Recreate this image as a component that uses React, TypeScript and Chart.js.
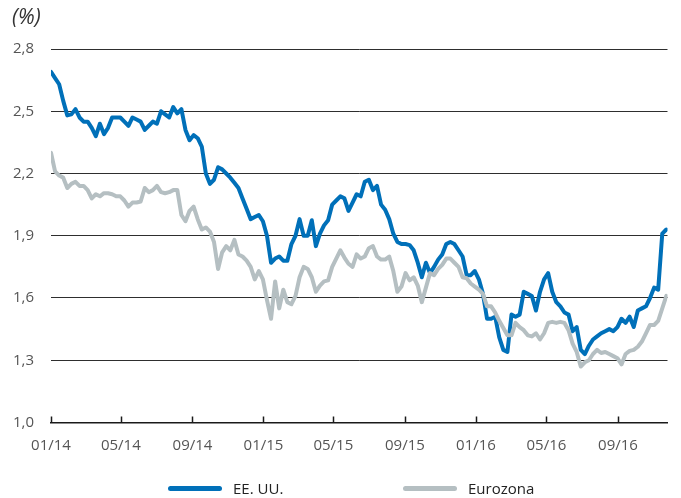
import React, { useEffect, useRef } from 'react';
import { Chart, registerables } from 'chart.js';

Chart.register(...registerables);

// Weekly observations starting 2014-01-01
const START_DATE = '2014-01-01';
const END_DATE = '2016-11-25';
const STEP_DAYS = 7;

const seriesLabels = ['EE. UU.', 'Eurozona'];

const usValues = [
  2.69, 2.66, 2.63, 2.55, 2.48, 2.485, 2.51, 2.47, 2.45, 2.45,
  2.42, 2.38, 2.44, 2.39, 2.42, 2.47, 2.47, 2.47, 2.45, 2.43,
  2.47, 2.46, 2.45, 2.41, 2.43, 2.45, 2.44, 2.50, 2.485, 2.47,
  2.52, 2.49, 2.51, 2.41, 2.36, 2.385, 2.37, 2.33, 2.20, 2.15,
  2.17, 2.23, 2.22, 2.20, 2.18, 2.155, 2.13, 2.08, 2.03, 1.98,
  1.99, 2.00, 1.97, 1.90, 1.77, 1.79, 1.80, 1.78, 1.78, 1.86,
  1.90, 1.98, 1.90, 1.90, 1.975, 1.85, 1.91, 1.95, 1.975, 2.05,
  2.07, 2.09, 2.08, 2.02, 2.06, 2.10, 2.09, 2.16, 2.17, 2.12,
  2.14, 2.05, 2.025, 1.98, 1.91, 1.87, 1.86, 1.86, 1.855, 1.83,
  1.77, 1.70, 1.77, 1.72, 1.75, 1.785, 1.81, 1.86, 1.87, 1.86,
  1.83, 1.80, 1.71, 1.71, 1.73, 1.69, 1.62, 1.50, 1.50, 1.51,
  1.41, 1.35, 1.34, 1.52, 1.51, 1.52, 1.63, 1.62, 1.61, 1.54,
  1.63, 1.69, 1.72, 1.63, 1.58, 1.56, 1.53, 1.52, 1.44, 1.46,
  1.35, 1.33, 1.37, 1.40, 1.415, 1.43, 1.44, 1.45, 1.44, 1.46,
  1.50, 1.48, 1.51, 1.46, 1.54, 1.55, 1.56, 1.60, 1.65, 1.64,
  1.91, 1.93,
];

const euValues = [
  2.30, 2.21, 2.19, 2.18, 2.13, 2.15, 2.16, 2.14, 2.14, 2.12,
  2.08, 2.10, 2.09, 2.105, 2.105, 2.10, 2.09, 2.09, 2.07, 2.04,
  2.06, 2.06, 2.065, 2.13, 2.11, 2.12, 2.14, 2.11, 2.105, 2.11,
  2.12, 2.12, 2.00, 1.97, 2.02, 2.04, 1.98, 1.93, 1.94, 1.92,
  1.87, 1.74, 1.82, 1.85, 1.83, 1.88, 1.81, 1.80, 1.78, 1.75,
  1.69, 1.73, 1.69, 1.59, 1.50, 1.68, 1.55, 1.64, 1.58, 1.57,
  1.61, 1.70, 1.75, 1.74, 1.70, 1.63, 1.66, 1.68, 1.685, 1.75,
  1.79, 1.83, 1.795, 1.765, 1.75, 1.81, 1.79, 1.80, 1.84, 1.85,
  1.80, 1.785, 1.785, 1.80, 1.73, 1.63, 1.655, 1.72, 1.685, 1.70,
  1.66, 1.58, 1.65, 1.72, 1.71, 1.74, 1.76, 1.79, 1.79, 1.77,
  1.75, 1.70, 1.695, 1.67, 1.655, 1.64, 1.62, 1.56, 1.56, 1.53,
  1.49, 1.455, 1.42, 1.42, 1.48, 1.46, 1.445, 1.42, 1.415, 1.43,
  1.40, 1.43, 1.48, 1.485, 1.48, 1.485, 1.48, 1.445, 1.38, 1.34,
  1.27, 1.29, 1.30, 1.33, 1.35, 1.335, 1.34, 1.33, 1.32, 1.31,
  1.28, 1.33, 1.345, 1.35, 1.365, 1.39, 1.43, 1.47, 1.47, 1.49,
  1.55, 1.61,
];

const tickDates = [
  '2014-01-01', '2014-05-01', '2014-09-01', '2015-01-01', '2015-05-01',
  '2015-09-01', '2016-01-01', '2016-05-01', '2016-09-01',
];
const tickLabels = ['01/14', '05/14', '09/14', '01/15', '05/15', '09/15', '01/16', '05/16', '09/16'];
const yTickValues = [1.0, 1.3, 1.6, 1.9, 2.2, 2.5, 2.8];

const BLUE = '#0070b9';
const GREY = '#b5bfc2';
const FONT = '"Open Sans", "Noto Sans", sans-serif';

const dayOf = (d: string) => (Date.parse(d) - Date.parse(START_DATE)) / 86400000;
const tickDays = tickDates.map(dayOf);

export default function App() {
  const canvasRef = useRef<HTMLCanvasElement | null>(null);

  useEffect(() => {
    document.body.style.margin = '0';
    const canvas = canvasRef.current;
    if (!canvas) return;

    const toPoints = (vals: number[]) => vals.map((v, i) => ({ x: i * STEP_DAYS, y: v }));

    const innerTicks = {
      id: 'innerTicks',
      afterDraw(chart: any) {
        const { ctx, chartArea } = chart;
        const x = chart.scales.x;
        ctx.save();
        ctx.strokeStyle = '#1a1a1a';
        ctx.lineWidth = 1.5;
        tickDays.forEach((d) => {
          const px = Math.round(x.getPixelForValue(d)) + 0.5;
          ctx.beginPath();
          ctx.moveTo(px, chartArea.bottom);
          ctx.lineTo(px, chartArea.bottom - 6);
          ctx.stroke();
        });
        ctx.restore();
      },
    };

    const chart = new Chart(canvas, {
      type: 'line',
      data: {
        datasets: [
          {
            label: seriesLabels[1],
            data: toPoints(euValues),
            borderColor: GREY,
            backgroundColor: GREY,
            borderWidth: 4,
            pointRadius: 0,
            tension: 0,
            borderJoinStyle: 'round',
            borderCapStyle: 'round',
          },
          {
            label: seriesLabels[0],
            data: toPoints(usValues),
            borderColor: BLUE,
            backgroundColor: BLUE,
            borderWidth: 4,
            pointRadius: 0,
            tension: 0,
            borderJoinStyle: 'round',
            borderCapStyle: 'round',
          },
        ],
      },
      options: {
        animation: false,
        responsive: false,
        maintainAspectRatio: false,
        parsing: false as any,
        layout: { padding: { top: 49, right: 13.5, bottom: 0, left: 0 } },
        plugins: {
          legend: { display: false },
          tooltip: { enabled: false },
          title: { display: false },
        },
        scales: {
          x: {
            type: 'linear',
            min: 0,
            max: dayOf(END_DATE),
            afterBuildTicks: (scale: any) => {
              scale.ticks = tickDays.map((v) => ({ value: v }));
            },
            afterFit: (scale: any) => {
              scale.height = 75.5;
            },
            grid: { display: false, drawTicks: false },
            border: { display: true, color: '#1a1a1a', width: 1.5 },
            ticks: {
              autoSkip: false,
              maxRotation: 0,
              padding: 14,
              color: '#555555',
              font: { family: FONT, size: 15 },
              callback: (v: any) => {
                const i = tickDays.indexOf(Number(v));
                return i >= 0 ? tickLabels[i] : '';
              },
            },
          },
          y: {
            type: 'linear',
            min: 1.0,
            max: 2.8,
            afterBuildTicks: (scale: any) => {
              scale.ticks = yTickValues.map((v) => ({ value: v }));
            },
            afterFit: (scale: any) => {
              scale.width = 51;
            },
            grid: { color: '#2e2e2e', lineWidth: 1, drawTicks: false },
            border: { display: false },
            ticks: {
              padding: 17,
              color: '#555555',
              font: { family: FONT, size: 15 },
              callback: (v: any) => Number(v).toFixed(1).replace('.', ','),
            },
          },
        },
      },
      plugins: [innerTicks],
    });

    return () => chart.destroy();
  }, []);

  const legendText: React.CSSProperties = {
    position: 'absolute',
    top: 478,
    height: 20,
    lineHeight: '20px',
    fontFamily: FONT,
    fontSize: 15,
    color: '#222222',
    whiteSpace: 'nowrap',
  };
  const legendLine: React.CSSProperties = {
    position: 'absolute',
    top: 486,
    width: 54,
    height: 5,
    borderRadius: 2.5,
  };

  return (
    <div style={{ position: 'relative', width: 681, height: 498, background: '#ffffff' }}>
      <canvas ref={canvasRef} width={681} height={498} style={{ display: 'block' }} />
      <div
        style={{
          position: 'absolute',
          left: 12,
          top: 2,
          lineHeight: '28px',
          fontFamily: FONT,
          fontStyle: 'italic',
          fontSize: 21,
          color: '#333333',
        }}
      >
        (%)
      </div>
      <div style={{ ...legendLine, left: 168, background: BLUE }} />
      <div style={{ ...legendText, left: 233 }}>{seriesLabels[0]}</div>
      <div style={{ ...legendLine, left: 403, background: GREY }} />
      <div style={{ ...legendText, left: 468 }}>{seriesLabels[1]}</div>
    </div>
  );
}
